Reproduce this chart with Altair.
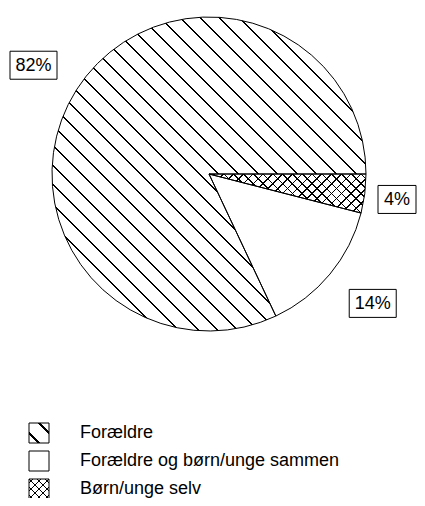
import math
import altair as alt
import pandas as pd

# ---- data ----
categories = ["Forældre", "Forældre og børn/unge sammen", "Børn/unge selv"]
values = [82, 14, 4]
labels = ["82%", "14%", "4%"]
stack_order = [3, 2, 1]  # stacking order (clockwise from 3 o'clock)

# ---- layout constants (pixels, plot coords) ----
W_PLOT, H_PLOT = 409, 490
CX, CY = 201, 166
R = 157
LABEL_A = 189
START = math.pi / 2

df = pd.DataFrame({"category": categories, "value": values,
                   "label": labels, "ord": stack_order})


def slice_bbox(a0, a1, r):
    pts = [(0.0, 0.0)]
    n = 720
    for i in range(n + 1):
        a = a0 + (a1 - a0) * i / n
        pts.append((r * math.sin(a), -r * math.cos(a)))
    xs = [p[0] for p in pts]
    ys = [p[1] for p in pts]
    return max(xs) - min(xs), max(ys) - min(ys)


def stripes(W, H, iso, spacing, lw, line="black", gap="white"):
    dx, dy = iso
    nx, ny = -dy, dx
    L = math.hypot(nx, ny)
    nx, ny = nx / L, ny / L
    g = (nx * W, ny * H)
    corners = [(0, 0), (1, 0), (0, 1), (1, 1)]
    vals = [g[0] * u + g[1] * w for u, w in corners]
    m, M = min(vals), max(vals)
    p1 = corners[vals.index(m)]
    s = (M - m) / (g[0] ** 2 + g[1] ** 2)
    p2 = (p1[0] + s * g[0], p1[1] + s * g[1])
    N = max(1, round((M - m) / spacing))
    f = lw / ((M - m) / N)
    stops = []
    for k in range(N):
        a = round((k + 0.5 - f / 2) / N, 5)
        b = round((k + 0.5 + f / 2) / N, 5)
        stops += [{"offset": a, "color": gap}, {"offset": a, "color": line},
                  {"offset": b, "color": line}, {"offset": b, "color": gap}]
    return alt.LinearGradient(gradient="linear", x1=p1[0], y1=p1[1],
                              x2=p2[0], y2=p2[1], stops=stops)


# slice angular extents (same stacking as the chart)
total = sum(values)
ext = {}
cum = 0
for c, v, o in sorted(zip(categories, values, stack_order), key=lambda t: t[2]):
    a0 = START + 2 * math.pi * cum / total
    cum += v
    a1 = START + 2 * math.pi * cum / total
    ext[c] = (a0, a1)

bw_f, bh_f = slice_bbox(*ext[categories[0]], R)
bw_c, bh_c = slice_bbox(*ext[categories[2]], R)

hatch_main = stripes(bw_f, bh_f, (1, 1), 14.0, 1.5)
cross_a = stripes(bw_c, bh_c, (1, 1), 7.0, 1.1)
cross_b = stripes(bw_c, bh_c, (1, -1), 7.0, 1.1, gap="transparent")

LEG = 20
leg_hatch = stripes(LEG, LEG, (1, 1), LEG / math.sqrt(2), 1.5)
leg_cross_a = stripes(LEG, LEG, (1, 1), 5.5, 1.0)
leg_cross_b = stripes(LEG, LEG, (1, -1), 5.5, 1.0, gap="transparent")

is_f = alt.datum.category == categories[0]
is_c = alt.datum.category == categories[2]

theta = alt.Theta("value:Q", stack=True,
                  scale=alt.Scale(range=[START, START + 2 * math.pi]))
order = alt.Order("ord:Q")

base = alt.Chart(df)

pie_fill = base.mark_arc(radius=R, strokeWidth=0).encode(
    theta=theta, order=order,
    x=alt.value(CX), y=alt.value(CY),
    fill=alt.when(is_f).then(alt.value(hatch_main))
    .when(is_c).then(alt.value(cross_a))
    .otherwise(alt.value("white")),
)
pie_cross = base.mark_arc(radius=R, strokeWidth=0).encode(
    theta=theta, order=order,
    x=alt.value(CX), y=alt.value(CY),
    fill=alt.when(is_c).then(alt.value(cross_b))
    .otherwise(alt.value("transparent")),
)
pie_outline = base.mark_arc(radius=R, stroke="black", strokeWidth=1,
                            fillOpacity=0).encode(
    theta=theta, order=order,
    x=alt.value(CX), y=alt.value(CY),
)

xs = alt.Scale(domain=[-CX, W_PLOT - CX], nice=False, zero=False)
ys = alt.Scale(domain=[-CY, H_PLOT - CY], nice=False, zero=False, reverse=True)

XMAX = W_PLOT - CX - 1
XMIN = -CX + 2
lab = base.transform_joinaggregate(
    total="sum(value)"
).transform_window(
    cum="sum(value)", sort=[alt.SortField("ord")], frame=[None, 0]
).transform_calculate(
    ang=f"(datum.cum - datum.value/2)/datum.total*2*PI + {START}",
    hw="4.5*length(datum.label) + 10",
    hh="14",
).transform_calculate(
    lx=(f"clamp(({LABEL_A} + datum.hw)*sin(datum.ang), "
        f"{XMIN} + datum.hw, {XMAX} - datum.hw)"),
    ly=f"-({LABEL_A} + datum.hh)*cos(datum.ang)",
).transform_calculate(
    bx1="datum.lx - datum.hw", bx2="datum.lx + datum.hw",
    by1="datum.ly - datum.hh", by2="datum.ly + datum.hh",
)

boxes = lab.mark_rect(fill="white", stroke="black", strokeWidth=1).encode(
    x=alt.X("bx1:Q", scale=xs, axis=None), x2="bx2:Q",
    y=alt.Y("by1:Q", scale=ys, axis=None), y2="by2:Q",
)
texts = lab.mark_text(fontSize=18, font="Liberation Sans", color="black",
                      baseline="middle", align="center", dy=1).encode(
    x=alt.X("lx:Q", scale=xs, axis=None),
    y=alt.Y("ly:Q", scale=ys, axis=None),
    text="label:N",
)

ly_scale = alt.Scale(domain=categories, range=[425, 481], padding=0)
leg_sym = base.mark_point(shape="square", filled=True, size=LEG * LEG,
                          stroke="black", strokeWidth=1, opacity=1).encode(
    x=alt.value(31),
    y=alt.Y("category:N", scale=ly_scale, axis=None),
    fill=alt.when(alt.datum.category == categories[0]).then(alt.value(leg_hatch))
    .when(alt.datum.category == categories[2]).then(alt.value(leg_cross_a))
    .otherwise(alt.value("white")),
)
leg_sym2 = base.mark_point(shape="square", filled=True, size=LEG * LEG,
                           strokeWidth=0, opacity=1).encode(
    x=alt.value(31),
    y=alt.Y("category:N", scale=ly_scale, axis=None),
    fill=alt.when(alt.datum.category == categories[2]).then(alt.value(leg_cross_b))
    .otherwise(alt.value("transparent")),
)
leg_txt = base.mark_text(fontSize=18, font="Liberation Sans", color="black",
                         align="left", baseline="middle").encode(
    x=alt.value(72),
    y=alt.Y("category:N", scale=ly_scale, axis=None),
    text="category:N",
)

chart = alt.layer(
    pie_fill, pie_cross, pie_outline, boxes, texts, leg_sym, leg_sym2, leg_txt
).resolve_scale(
    x="independent", y="independent"
).properties(
    width=W_PLOT, height=H_PLOT,
    autosize=alt.AutoSizeParams(type="none"),
    padding=0,
).configure_view(stroke=None)

chart.save("out.html", embed_options={"renderer": "svg", "actions": False})
